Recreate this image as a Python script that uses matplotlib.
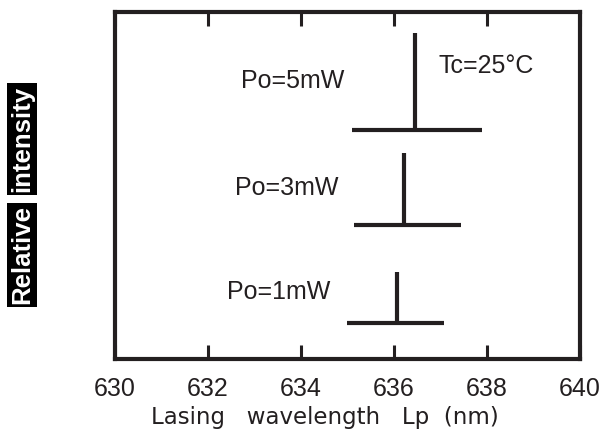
import matplotlib
matplotlib.use("Agg")
import matplotlib.pyplot as plt

# lasing spectra at three output powers (Tc = 25 C)
powers = ["Po=1mW", "Po=3mW", "Po=5mW"]
peak_nm = [636.06, 636.21, 636.45]
base_level = [0.104, 0.386, 0.660]
peak_height = [0.147, 0.208, 0.280]
span_left = [634.99, 635.14, 635.10]
span_right = [637.08, 637.44, 637.90]

ink = "#231f20"
plt.rcParams["font.family"] = ["Liberation Sans", "DejaVu Sans"]

fig = plt.figure(figsize=(6.1, 4.32), dpi=100)
ax = fig.add_axes([0.1885, 0.169, 0.7625, 0.803])

for i in range(len(powers)):
    ax.hlines(base_level[i], span_left[i], span_right[i], color=ink, lw=3)
    ax.vlines(peak_nm[i], base_level[i], base_level[i] + peak_height[i], color=ink, lw=3)

label_pos = [(633.53, 0.193), (633.70, 0.493), (633.83, 0.80)]
for txt, (lx, ly) in zip(powers, label_pos):
    ax.text(lx, ly, txt, ha="center", va="center", fontsize=18, color=ink)
ax.text(636.95, 0.844, "Tc=25°C", ha="left", va="center", fontsize=18, color=ink)

ax.set_xlim(630, 640)
ax.set_ylim(0, 1)
ax.set_xticks([630, 632, 634, 636, 638, 640])
ax.set_yticks([])
ax.tick_params(axis="x", direction="in", length=10, width=2.2, color=ink,
               top=True, labelsize=18, labelcolor=ink, pad=13)
for s in ax.spines.values():
    s.set_linewidth(3)
    s.set_color(ink)

ax.set_xlabel("Lasing   wavelength   Lp  (nm)", fontsize=16.5, color=ink,
              family="DejaVu Sans")
ax.xaxis.set_label_coords(0.452, -0.135)

# y label drawn as white words on black boxes
box = dict(facecolor="black", edgecolor="none", pad=1.8)
fig.text(22 / 610, 1 - 255 / 432, "Relative", rotation=90, ha="center", va="center",
         fontsize=18.5, fontweight="bold", color="white", bbox=box)
fig.text(22 / 610, 1 - 139 / 432, "intensity", rotation=90, ha="center", va="center",
         fontsize=18.5, fontweight="bold", color="white", bbox=box)

fig.savefig("out.png", dpi=100)
